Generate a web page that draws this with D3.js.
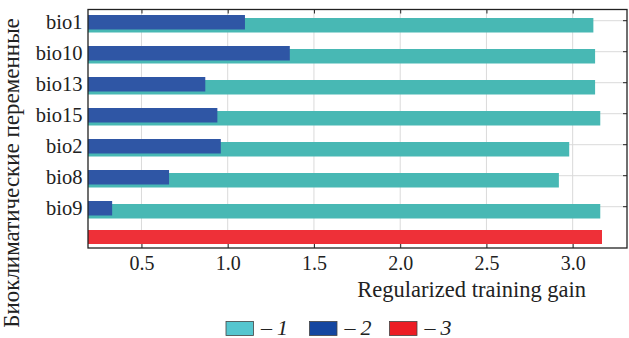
<!DOCTYPE html>
<html>
<head>
<meta charset="utf-8">
<script src="https://cdn.jsdelivr.net/npm/d3@7"></script>
<style>
  html, body { margin: 0; padding: 0; background: #fff; }
</style>
</head>
<body>
<svg id="fig" width="629" height="338" font-family="Liberation Serif"></svg>
<script>
// ---- data ----
const categories = ["bio1", "bio10", "bio13", "bio15", "bio2", "bio8", "bio9"];
const series1 = [3.12, 3.13, 3.13, 3.16, 2.98, 2.92, 3.16];   // – 1 (teal)
const series2 = [1.10, 1.36, 0.87, 0.94, 0.96, 0.66, 0.33];   // – 2 (blue)
const series3 = [3.17];                                        // – 3 (red)
const xTicks = [0.5, 1.0, 1.5, 2.0, 2.5, 3.0];
const legendLabels = ["1", "2", "3"];
const xTitle = "Regularized training gain";
const yTitle = "Биоклиматические переменные";

// ---- layout ----
const FONT = "Liberation Serif";
const svg = d3.select("#fig");
const L = 88, R = 627, T = 9.5, B = 248;

const x = d3.scaleLinear().domain([0.19, 3.315]).range([L, R]);
const y = d3.scaleBand().domain([...categories, "__all"]).range([6.5, 254.5]);
const cy = c => y(c) + y.bandwidth() / 2;

const colTeal = "#48b8b4", colBlue = "#2f56a5", colRed = "#ee3038";
const legTeal = "#55c6cf", legBlue = "#1546a0", legRed = "#ec1c24";

// gridlines
const g = svg.append("g");
g.selectAll("line.vg").data(xTicks).join("line")
  .attr("x1", d => x(d)).attr("x2", d => x(d))
  .attr("y1", T).attr("y2", B)
  .attr("stroke", "#dadada").attr("stroke-width", 1);
g.selectAll("line.hg").data(categories).join("line")
  .attr("x1", L).attr("x2", R)
  .attr("y1", d => cy(d) - 1.3).attr("y2", d => cy(d) - 1.3)
  .attr("stroke", "#dadada").attr("stroke-width", 1);

// bars
const x0 = x.domain()[0];
g.selectAll("rect.teal").data(categories).join("rect")
  .attr("x", x(x0)).attr("y", d => cy(d) - 4)
  .attr("width", (d, i) => x(series1[i]) - x(x0)).attr("height", 14.5)
  .attr("fill", colTeal);
g.selectAll("rect.blue").data(categories).join("rect")
  .attr("x", x(x0)).attr("y", d => cy(d) - 7)
  .attr("width", (d, i) => x(series2[i]) - x(x0)).attr("height", 14.5)
  .attr("fill", colBlue);
g.selectAll("rect.red").data(series3).join("rect")
  .attr("x", x(x0)).attr("y", cy("__all") - 9)
  .attr("width", d => x(d) - x(x0)).attr("height", 14)
  .attr("fill", colRed);

// right ticks
g.selectAll("line.rt").data(categories).join("line")
  .attr("x1", R - 4).attr("x2", R)
  .attr("y1", d => cy(d) - 1.3).attr("y2", d => cy(d) - 1.3)
  .attr("stroke", "#222").attr("stroke-width", 1);

// bottom axis
const xAxis = svg.append("g").attr("transform", `translate(0,${B})`)
  .call(d3.axisBottom(x).tickValues(xTicks).tickFormat(d3.format(".1f"))
    .tickSizeInner(-4).tickSizeOuter(0).tickPadding(8));
xAxis.attr("font-family", FONT).attr("font-size", 20);
xAxis.select(".domain").remove();
xAxis.selectAll("line").attr("stroke", "#222");
xAxis.selectAll("text").attr("fill", "#222").style("font-family", FONT, "important");

// top axis ticks
const xTop = svg.append("g").attr("transform", `translate(0,${T})`)
  .call(d3.axisTop(x).tickValues(xTicks).tickFormat("").tickSizeInner(-4).tickSizeOuter(0));
xTop.select(".domain").remove();
xTop.selectAll("line").attr("stroke", "#222");

// left axis labels
const yAxis = svg.append("g").attr("transform", `translate(${L},0)`)
  .call(d3.axisLeft(y).tickValues(categories).tickSize(0).tickPadding(5.5));
yAxis.attr("font-family", FONT).attr("font-size", 20.5);
yAxis.select(".domain").remove();
yAxis.selectAll("text").attr("fill", "#222").attr("dy", "0.36em").style("font-family", FONT, "important");

// frame
svg.append("rect").attr("x", L).attr("y", T).attr("width", R - L).attr("height", B - T)
  .attr("fill", "none").attr("stroke", "#222").attr("stroke-width", 1.3);

// axis titles
svg.append("text").attr("x", 471.7).attr("y", 297).attr("text-anchor", "middle")
  .style("font-family", FONT, "important").attr("font-size", 22.5).attr("fill", "#222").text(xTitle);
svg.append("text").attr("transform", "translate(19,173) rotate(-90)")
  .style("font-family", FONT, "important").attr("text-anchor", "middle").attr("font-size", 23)
  .attr("fill", "#222").text(yTitle);

// legend
const legColors = [legTeal, legBlue, legRed];
const legX = [226, 309.5, 389.5];
const leg = svg.append("g").attr("font-family", FONT);
legendLabels.forEach((lab, i) => {
  leg.append("rect").attr("x", legX[i]).attr("y", 321.5).attr("width", 27.5).attr("height", 14)
    .attr("fill", legColors[i]).attr("stroke", "#444").attr("stroke-width", 0.8);
  leg.append("text").attr("x", legX[i] + 35).attr("y", 334.5).style("font-family", FONT, "important")
    .attr("font-size", 22).attr("fill", "#222").text("–");
  leg.append("text").attr("x", legX[i] + 51).attr("y", 334.5).style("font-family", FONT, "important")
    .attr("font-size", 22).attr("font-style", "italic").attr("fill", "#222").text(lab);
});
</script>
</body>
</html>
